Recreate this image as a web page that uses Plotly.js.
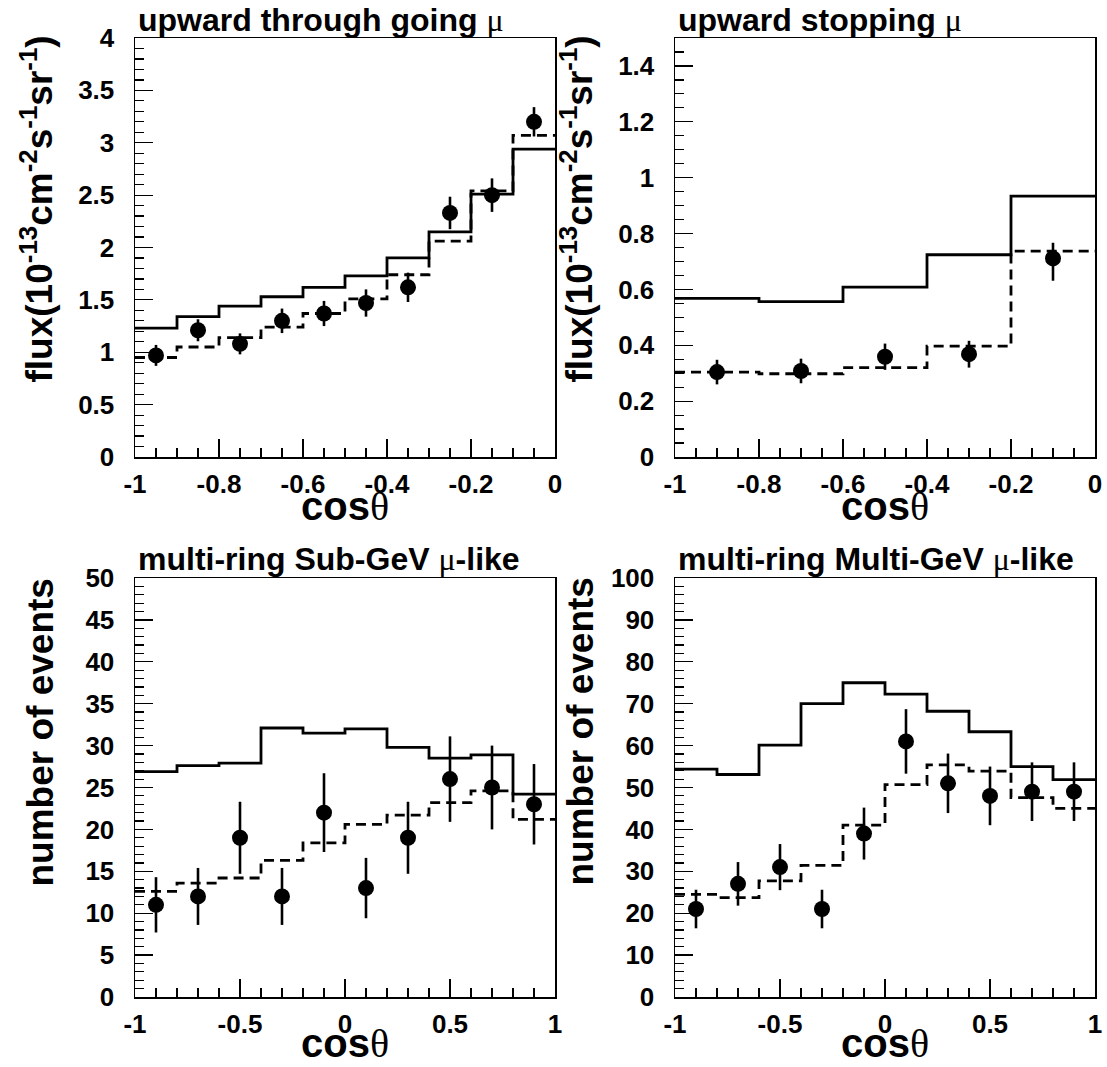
<!DOCTYPE html>
<html>
<head>
<meta charset="utf-8">
<script src="https://cdn.plot.ly/plotly-3.0.1.min.js"></script>
<style>html,body{margin:0;padding:0;background:#fff;}#chart{width:1107px;height:1067px;}</style>
</head>
<body>
<div id="chart"></div>
<script>
// ---------- Data: upward through-going muons ----------
const thruEdges   = [-1,-0.9,-0.8,-0.7,-0.6,-0.5,-0.4,-0.3,-0.2,-0.1,0];
const thruNoOsc   = [1.23,1.34,1.44,1.53,1.62,1.73,1.90,2.15,2.51,2.94];
const thruOsc     = [0.95,1.05,1.14,1.24,1.37,1.51,1.74,2.06,2.54,3.07];
const thruCenters = [-0.95,-0.85,-0.75,-0.65,-0.55,-0.45,-0.35,-0.25,-0.15,-0.05];
const thruData    = [0.97,1.21,1.08,1.30,1.37,1.47,1.62,2.33,2.50,3.20];
const thruErr     = [0.10,0.105,0.10,0.117,0.12,0.13,0.14,0.155,0.16,0.14];

// ---------- Data: upward stopping muons ----------
const stopEdges    = [-1,-0.8,-0.6,-0.4,-0.2,0];
const stopNoOsc    = [0.568,0.556,0.608,0.724,0.934];
const stopOsc      = [0.304,0.298,0.320,0.397,0.737];
const stopCenters  = [-0.9,-0.7,-0.5,-0.3,-0.1];
const stopData     = [0.304,0.308,0.359,0.368,0.711];
const stopErrPlus  = [0.044,0.044,0.047,0.048,0.056];
const stopErrMinus = [0.044,0.044,0.047,0.048,0.080];

// ---------- Data: multi-ring Sub-GeV mu-like ----------
const ringEdges   = [-1,-0.8,-0.6,-0.4,-0.2,0,0.2,0.4,0.6,0.8,1];
const ringCenters = [-0.9,-0.7,-0.5,-0.3,-0.1,0.1,0.3,0.5,0.7,0.9];
const subNoOsc    = [26.9,27.6,27.9,32.1,31.5,32.0,29.8,28.5,28.9,24.2];
const subOsc      = [12.6,13.6,14.2,16.3,18.4,20.6,21.7,23.2,24.6,21.2];
const subData     = [11,12,19,12,22,13,19,26,25,23];
const subErr      = [3.3,3.4,4.3,3.4,4.7,3.6,4.3,5.1,5.0,4.8];

// ---------- Data: multi-ring Multi-GeV mu-like ----------
const multiNoOsc  = [54.4,53.1,60.1,70.0,75.0,72.3,68.2,63.3,55.0,51.9];
const multiOsc    = [24.5,23.7,27.7,31.4,41.0,50.7,55.4,53.9,47.6,45.0];
const multiData   = [21,27,31,21,39,61,51,48,49,49];
const multiErr    = [4.6,5.2,5.5,4.6,6.2,7.7,7.1,7.0,7.0,7.0];

// ---------- Tick labels ----------
const upXTickVals  = [-1,-0.8,-0.6,-0.4,-0.2,0];
const upXTickText  = ['-1','-0.8','-0.6','-0.4','-0.2','0'];
const thruYTickVals = [0,0.5,1,1.5,2,2.5,3,3.5,4];
const thruYTickText = ['0','0.5','1','1.5','2','2.5','3','3.5','4'];
const stopYTickVals = [0,0.2,0.4,0.6,0.8,1,1.2,1.4];
const stopYTickText = ['0','0.2','0.4','0.6','0.8','1','1.2','1.4'];
const ringXTickVals = [-1,-0.5,0,0.5,1];
const ringXTickText = ['-1','-0.5','0','0.5','1'];
const subYTickVals  = [0,5,10,15,20,25,30,35,40,45,50];
const subYTickText  = ['0','5','10','15','20','25','30','35','40','45','50'];
const multiYTickVals = [0,10,20,30,40,50,60,70,80,90,100];
const multiYTickText = ['0','10','20','30','40','50','60','70','80','90','100'];

// ---------- Texts ----------
const SERIF = '<span style="font-family:Liberation Serif;font-weight:normal">';
const panelTitles = [
  'upward through going ' + SERIF + 'μ</span>',
  'upward stopping ' + SERIF + 'μ</span>',
  'multi-ring Sub-GeV ' + SERIF + 'μ</span>-like',
  'multi-ring Multi-GeV ' + SERIF + 'μ</span>-like'
];
const fluxTitle = 'flux(10<sup>-13</sup>cm<sup>-2</sup>s<sup>-1</sup>sr<sup>-1</sup>)';
const eventsTitle = 'number of events';
const xTitle = 'cos' + SERIF + 'θ</span>';

// ---------- Build ----------
const FONT = 'Liberation Sans';
function stepY(v){ return v.concat([v[v.length-1]]); }
function panelTraces(xa, ya, edges, noOsc, osc, centers, data, errP, errM){
  return [
    {type:'scatter', mode:'lines', x:edges, y:stepY(noOsc), xaxis:xa, yaxis:ya,
     line:{shape:'hv', color:'#000', width:2.8}, hoverinfo:'skip'},
    {type:'scatter', mode:'lines', x:edges, y:stepY(osc), xaxis:xa, yaxis:ya,
     line:{shape:'hv', color:'#000', width:2.8, dash:'10px,6px'}, hoverinfo:'skip'},
    {type:'scatter', mode:'markers', x:centers, y:data, xaxis:xa, yaxis:ya,
     marker:{color:'#000', size:16},
     error_y:{type:'data', array:errP, arrayminus:errM, symmetric:false, width:0, thickness:2.6, color:'#000'}}
  ];
}

const traces = [].concat(
  panelTraces('x','y', thruEdges, thruNoOsc, thruOsc, thruCenters, thruData, thruErr, thruErr),
  panelTraces('x2','y2', stopEdges, stopNoOsc, stopOsc, stopCenters, stopData, stopErrPlus, stopErrMinus),
  panelTraces('x3','y3', ringEdges, subNoOsc, subOsc, ringCenters, subData, subErr, subErr),
  panelTraces('x4','y4', ringEdges, multiNoOsc, multiOsc, ringCenters, multiData, multiErr, multiErr)
);

const W = 1107, H = 1067;
const colL = [135/W, 555/W], colR = [675/W, 1095/W];
const rowT = [1-457/H, 1-38/H], rowB = [1-997/H, 1-578/H];

function xAxis(domain, anchor, range, vals, text, minorDt){
  return {domain:domain, anchor:anchor, range:range, tickmode:'array', tickvals:vals, ticktext:text,
    ticks:'inside', ticklen:18, tickwidth:1.2, tickcolor:'#000',
    minor:{ticks:'inside', ticklen:9, tickwidth:1.2, tickcolor:'#000', tickmode:'linear', tick0:range[0], dtick:minorDt, showgrid:false},
    showline:true, linecolor:'#000', linewidth:1.5, mirror:true, showgrid:false, zeroline:false,
    ticklabelstandoff:3,
    tickfont:{family:FONT, size:26, color:'#000', weight:'bold'}, fixedrange:true};
}
function yAxis(domain, anchor, range, vals, text, minorDt){
  const a = xAxis(domain, anchor, range, vals, text, minorDt);
  a.ticklabelstandoff = 14;
  return a;
}

function px(v, total){ return v/total; }
const ann = [];
// panel titles
[[136,20,0],[676,20,1],[136,559,2],[676,559,3]].forEach(function(p){
  ann.push({xref:'paper', yref:'paper', x:px(p[0],W), y:1-px(p[1],H), xanchor:'left', yanchor:'middle',
    text:panelTitles[p[2]], showarrow:false, font:{family:FONT, size:32, color:'#000', weight:'bold'}});
});
// y titles
[[63,209,fluxTitle],[603,209,fluxTitle],[63,732,eventsTitle],[603,732,eventsTitle]].forEach(function(p){
  ann.push({xref:'paper', yref:'paper', x:px(p[0],W), y:1-px(p[1],H), xanchor:'right', yanchor:'middle',
    textangle:-90, text:p[2], showarrow:false, font:{family:FONT, size:37, color:'#000', weight:'bold'}});
});
// x titles
[[345,530],[885,530],[345,1067],[885,1067]].forEach(function(p){
  ann.push({xref:'paper', yref:'paper', x:px(p[0],W), y:1-px(p[1],H), xanchor:'center', yanchor:'bottom',
    text:xTitle, showarrow:false, borderpad:0, font:{family:FONT, size:40, color:'#000', weight:'bold'}});
});

const layout = {
  width:W, height:H, margin:{l:0,r:0,t:0,b:0}, paper_bgcolor:'#fff', plot_bgcolor:'#fff', showlegend:false,
  xaxis:  xAxis(colL,'y',[-1,0], upXTickVals, upXTickText, 0.05),
  yaxis:  yAxis(rowT,'x',[0,4], thruYTickVals, thruYTickText, 0.1),
  xaxis2: xAxis(colR,'y2',[-1,0], upXTickVals, upXTickText, 0.05),
  yaxis2: yAxis(rowT,'x2',[0,1.5], stopYTickVals, stopYTickText, 0.05),
  xaxis3: xAxis(colL,'y3',[-1,1], ringXTickVals, ringXTickText, 0.1),
  yaxis3: yAxis(rowB,'x3',[0,50], subYTickVals, subYTickText, 1),
  xaxis4: xAxis(colR,'y4',[-1,1], ringXTickVals, ringXTickText, 0.1),
  yaxis4: yAxis(rowB,'x4',[0,100], multiYTickVals, multiYTickText, 2),
  annotations: ann
};

Plotly.newPlot('chart', traces, layout, {displayModeBar:false, staticPlot:true});
</script>
</body>
</html>
